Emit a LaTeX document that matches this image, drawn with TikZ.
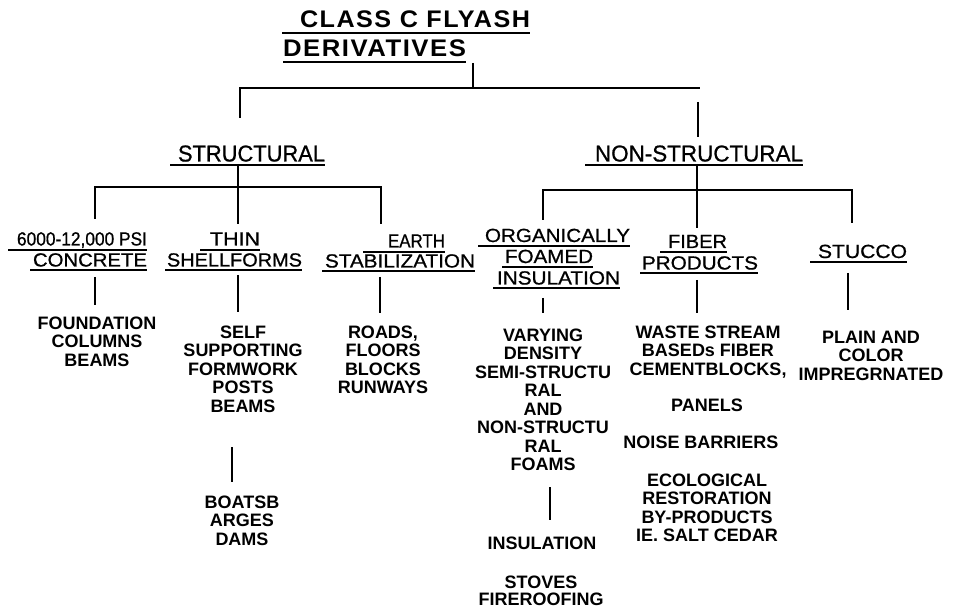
\documentclass[tikz,border=0pt]{standalone}
\usepackage{fontspec}
\setmainfont{Liberation Sans}
\usepackage{graphicx}
\newcommand\htitle{\bfseries\fontsize{24}{24}\selectfont\addfontfeature{LetterSpace=6}}
\newcommand\hone{\fontsize{23}{23}\selectfont\addfontfeature{FakeBold=0.8}}
\newcommand\htwo{\fontsize{19}{19}\selectfont\addfontfeature{FakeBold=0.8}}
% #1 name, #2 underline left, #3 text left, #4 text right, #5 underline right,
% #6 baseline, #7 font, #8 text, #9 underline offset
\newcommand\hd[9]{%
  \pgfmathsetmacro\hdA{#3-#2}\pgfmathsetmacro\hdB{#4-#3}\pgfmathsetmacro\hdC{#5-#4}%
  \node[hdnode,font=#7] (#1) at (#2,#6) {\hspace{\hdA pt}\resizebox{\hdB pt}{\height}{#8}\hspace{\hdC pt}};%
  \draw[ulline] ([yshift=-#9pt]#1.base west) -- ([yshift=-#9pt]#1.base east);}
\begin{document}
\begin{tikzpicture}[x=1pt,y=-1pt,
  conn/.style={line width=2.8pt},
  ulline/.style={line width=2pt},
  hdnode/.style={anchor=base west, inner sep=0pt, outer sep=0pt},
  body/.style={anchor=north, align=center, inner sep=0pt, font=\bfseries\fontsize{18}{18.5}\selectfont}]
\useasboundingbox (0,0) rectangle (953,609);

% title
\hd{t1}{282}{300}{530}{537}{28}{\htitle}{CLASS C FLYASH}{5}
\hd{t2}{283}{283}{466}{470}{57}{\htitle}{DERIVATIVES}{5}

% level 1
\hd{structural}{170}{178}{325}{328}{161.5}{\hone}{STRUCTURAL}{3.5}
\hd{nonstructural}{585}{595}{803}{805}{161.5}{\hone}{NON-STRUCTURAL}{3.5}

% level 2
\hd{psiA}{8}{17}{147}{175}{245.5}{\htwo}{6000-12,000 PSI}{4.5}
\hd{psiB}{30}{33}{147}{150}{266.5}{\htwo}{CONCRETE}{3.5}
\hd{thinA}{200}{210}{260}{275}{245.5}{\htwo}{THIN}{4.5}
\hd{thinB}{165}{167}{302}{305}{266.5}{\htwo}{SHELLFORMS}{3.5}
\hd{earthA}{363}{388}{445}{447}{247.5}{\htwo}{EARTH}{4.5}
\hd{earthB}{322}{325}{475}{477}{267.5}{\htwo}{STABILIZATION}{3.5}
\hd{orgA}{478}{485}{630}{638}{242}{\htwo}{ORGANICALLY}{4}
\hd{orgB}{502}{505}{593}{608}{263}{\htwo}{FOAMED}{4}
\hd{orgC}{493}{497}{620}{623}{284.5}{\htwo}{INSULATION}{3.5}
\hd{fibA}{660}{668}{727}{737}{248}{\htwo}{FIBER}{4}
\hd{fibB}{640}{642}{758}{762}{269.5}{\htwo}{PRODUCTS}{3.5}
\hd{stucco}{810}{818}{907}{910}{258}{\htwo}{STUCCO}{4}

% body texts
\node[body] (b1) at (97,316.5) {FOUNDATION\\COLUMNS\\BEAMS};
\node[body] (b2) at (243,325.5) {SELF\\SUPPORTING\\FORMWORK\\POSTS\\BEAMS};
\node[body] (b3) at (383,325.5) {ROADS,\\FLOORS\\BLOCKS\\RUNWAYS};
\node[body] (b4) at (242,495.5) {BOATSB\\ARGES\\DAMS};
\node[body] (b5) at (543,328.5) {VARYING\\DENSITY\\SEMI-STRUCTU\\RAL\\AND\\NON-STRUCTU\\RAL\\FOAMS};
\node[body] (b6) at (542,536.5) {INSULATION};
\node[body,font=\bfseries\fontsize{18}{17}\selectfont] (b7) at (541,575.5) {STOVES\\FIREROOFING};
\node[body] (b8) at (708,325.5) {WASTE STREAM\\BASEDs FIBER\\CEMENTBLOCKS,};
\node[body] (b9) at (707,398.5) {PANELS};
\node[body] (b10) at (701,435.5) {NOISE BARRIERS};
\node[body] (b11) at (707,473.5) {ECOLOGICAL\\RESTORATION\\BY-PRODUCTS\\IE. SALT CEDAR};
\node[body] (b12) at (871,330.5) {PLAIN AND\\COLOR\\IMPREGRNATED};

% connector points
\coordinate (tickT) at (473,63);
\coordinate (tickB) at (473,88);
\coordinate (barL) at (240,88);
\coordinate (barR) at (700,88);
\coordinate (legL) at (240,118);
\coordinate (legRT) at (698,102);
\coordinate (legRB) at (698,137);

\coordinate (sT) at (238,164);
\coordinate (sB) at (238,224);
\coordinate (sL) at (95,187);
\coordinate (sLB) at (95,219);
\coordinate (sR) at (381,187);
\coordinate (sRB) at (381,224);

\coordinate (nT) at (697,164);
\coordinate (nB) at (697,228);
\coordinate (nL) at (543,190);
\coordinate (nLB) at (543,220);
\coordinate (nR) at (852,190);
\coordinate (nRB) at (852,223);

\draw[conn] (tickT) -- (tickB);
\draw[conn] (legL) -- (barL) -- (barR);
\draw[conn] (legRT) -- (legRB);

\draw[conn] (sT) -- (sB);
\draw[conn] (sLB) -- (sL) -- (sR) -- (sRB);
\draw[conn] (nT) -- (nB);
\draw[conn] (nLB) -- (nL) -- (nR) -- (nRB);

% short connectors down to the descriptions
\coordinate (c1t) at (95,277);  \coordinate (c1b) at (95,305);
\coordinate (c2t) at (238,275); \coordinate (c2b) at (238,312);
\coordinate (c3t) at (380,277); \coordinate (c3b) at (380,313);
\coordinate (c4t) at (543,298); \coordinate (c4b) at (543,313);
\coordinate (c5t) at (697,280); \coordinate (c5b) at (697,313);
\coordinate (c6t) at (848,273); \coordinate (c6b) at (848,310);
\coordinate (c7t) at (232,447); \coordinate (c7b) at (232,482);
\coordinate (c8t) at (550,487); \coordinate (c8b) at (550,520);
\foreach \i in {1,...,8} {\draw[conn] (c\i t) -- (c\i b);}
\end{tikzpicture}
\end{document}
